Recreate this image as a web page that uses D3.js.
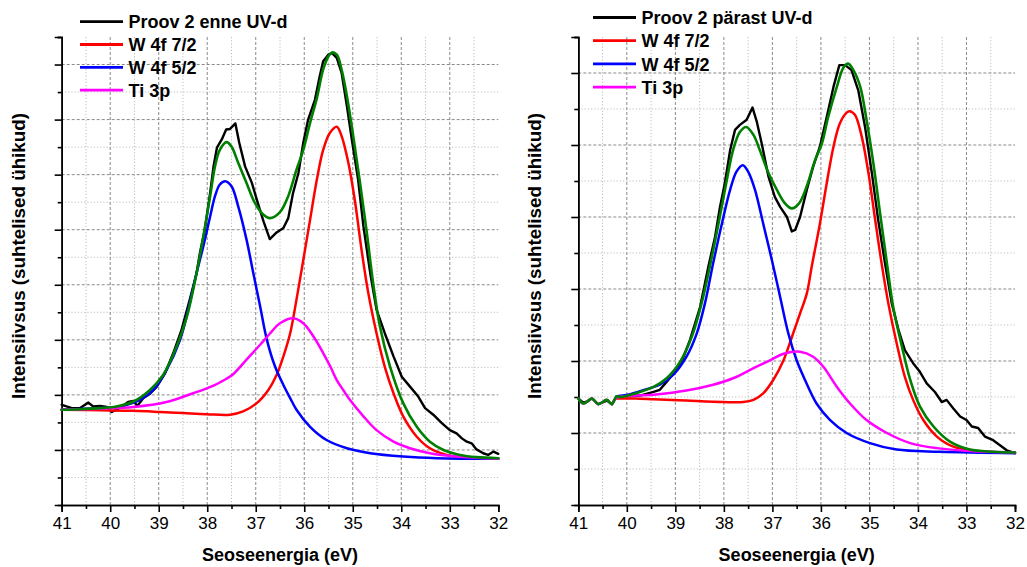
<!DOCTYPE html>
<html>
<head>
<meta charset="utf-8">
<script src="https://cdn.jsdelivr.net/npm/d3@7"></script>
<style>
  html, body { margin: 0; padding: 0; background: #ffffff; }
  svg { display: block; }
  text { font-family: Arial, "Liberation Sans", sans-serif; fill: #000; }
</style>
</head>
<body>
<svg id="chart" width="1027" height="567"></svg>
<script>
// Binding energy ticks (eV), shared by both panels
const energyTicks = [41, 40, 39, 38, 37, 36, 35, 34, 33, 32];

// Legend labels
const legendLeft = ["Proov 2 enne UV-d", "W 4f 7/2", "W 4f 5/2", "Ti 3p"];
const legendRight = ["Proov 2 pärast UV-d", "W 4f 7/2", "W 4f 5/2", "Ti 3p"];
const seriesColors = ["#000000", "#ff0000", "#0000ff", "#ff00ff"];
const fitColor = "#008000";

// ---- Sample 2 before UV: [energy eV, intensity a.u.] ----
const enneMeasured = [
  [41.00,1.82],[40.90,1.79],[40.79,1.76],[40.62,1.76],[40.45,1.86],[40.35,1.79],[40.21,1.80],
  [40.07,1.78],[39.97,1.69],[39.87,1.73],[39.76,1.79],[39.63,1.87],[39.52,1.89],[39.44,1.80],
  [39.32,1.94],[39.18,2.02],[39.04,2.15],[38.87,2.39],[38.70,2.76],[38.53,3.18],[38.36,3.73],
  [38.22,4.21],[38.15,4.58],[38.05,5.00],[37.94,5.67],[37.87,6.15],[37.80,6.49],[37.70,6.64],
  [37.61,6.82],[37.53,6.83],[37.42,6.93],[37.34,6.58],[37.22,6.15],[37.08,5.85],[36.98,5.55],
  [36.84,5.15],[36.71,4.83],[36.57,4.95],[36.43,5.03],[36.33,5.21],[36.23,5.67],[36.12,6.03],
  [36.02,6.58],[35.92,7.00],[35.78,7.36],[35.68,7.79],[35.61,8.06],[35.50,8.18],[35.43,8.21],
  [35.33,8.12],[35.23,7.85],[35.12,7.24],[35.02,6.64],[34.89,5.91],[34.78,5.06],[34.64,4.21],
  [34.51,3.55],[34.34,3.12],[34.16,2.70],[33.99,2.33],[33.82,2.15],[33.65,1.97],[33.51,1.76],
  [33.34,1.64],[33.17,1.49],[33.00,1.36],[32.86,1.30],[32.75,1.21],[32.65,1.15],[32.55,1.12],
  [32.45,1.01],[32.31,0.94],[32.21,0.91],[32.10,0.97],[32.00,0.93]
];
const enneW72 = [
  [41.00,1.73],[40.21,1.72],[39.52,1.71],[38.97,1.69],[38.49,1.67],[38.01,1.65],[37.53,1.64],
  [37.26,1.70],[36.98,1.85],[36.74,2.09],[36.57,2.36],[36.43,2.70],[36.29,3.12],[36.16,3.73],
  [36.02,4.45],[35.88,5.18],[35.74,5.91],[35.61,6.45],[35.47,6.76],[35.33,6.87],[35.23,6.70],
  [35.09,6.21],[34.95,5.49],[34.82,4.64],[34.68,3.85],[34.51,3.12],[34.34,2.51],[34.16,2.03],
  [33.96,1.61],[33.68,1.24],[33.41,1.03],[33.06,0.91],[32.58,0.85],[32.00,0.84]
];
const enneW52 = [
  [41.00,1.73],[40.21,1.76],[39.80,1.79],[39.39,1.91],[39.11,2.09],[38.84,2.45],[38.56,3.00],
  [38.36,3.67],[38.22,4.21],[38.08,4.70],[37.94,5.24],[37.84,5.61],[37.74,5.82],[37.63,5.88],
  [37.50,5.79],[37.36,5.42],[37.19,4.82],[37.05,4.21],[36.91,3.61],[36.77,3.00],[36.60,2.51],
  [36.43,2.18],[36.29,1.94],[36.16,1.73],[35.88,1.42],[35.54,1.18],[35.12,1.03],[34.64,0.94],
  [33.96,0.88],[33.27,0.85],[32.00,0.84]
];
const enneTi3p = [
  [41.00,1.73],[40.21,1.75],[39.52,1.78],[38.84,1.87],[38.29,2.03],[37.87,2.17],[37.63,2.28],
  [37.46,2.38],[37.33,2.50],[37.19,2.64],[36.91,2.91],[36.71,3.11],[36.50,3.30],[36.23,3.39],
  [36.02,3.30],[35.81,3.06],[35.61,2.76],[35.46,2.51],[35.33,2.27],[35.19,2.08],[35.06,1.91],
  [34.78,1.61],[34.51,1.36],[34.16,1.15],[33.82,1.03],[33.41,0.94],[32.86,0.88],[32.00,0.84]
];
const enneFit = [
  [41.00,1.73],[40.62,1.74],[40.21,1.76],[39.87,1.79],[39.52,1.88],[39.18,2.09],[38.91,2.36],
  [38.63,2.88],[38.42,3.42],[38.22,4.21],[38.08,4.88],[37.94,5.61],[37.84,6.15],[37.74,6.45],
  [37.60,6.59],[37.50,6.51],[37.36,6.21],[37.19,5.85],[37.02,5.49],[36.84,5.27],[36.71,5.21],
  [36.50,5.32],[36.33,5.61],[36.16,6.09],[36.02,6.45],[35.88,6.94],[35.74,7.39],[35.61,7.91],
  [35.50,8.15],[35.43,8.22],[35.33,8.18],[35.23,7.91],[35.12,7.42],[34.99,6.70],[34.85,5.85],
  [34.71,4.94],[34.58,4.03],[34.44,3.24],[34.23,2.51],[33.96,1.85],[33.68,1.42],[33.41,1.15],
  [33.13,1.00],[32.79,0.91],[32.45,0.87],[32.00,0.85]
];

// ---- Sample 2 after UV: [energy eV, intensity a.u.] ----
const parastMeasured = [
  [41.00,1.48],[40.90,1.42],[40.81,1.44],[40.72,1.48],[40.59,1.40],[40.41,1.45],[40.31,1.40],
  [40.21,1.51],[40.00,1.51],[39.73,1.52],[39.45,1.57],[39.32,1.60],[39.18,1.71],[39.01,1.85],
  [38.87,1.99],[38.70,2.29],[38.49,2.75],[38.32,3.31],[38.18,3.73],[38.08,4.14],[37.98,4.47],
  [37.87,4.93],[37.77,5.21],[37.67,5.28],[37.53,5.35],[37.41,5.52],[37.32,5.32],[37.22,5.02],
  [37.08,4.56],[36.95,4.28],[36.84,4.14],[36.70,4.00],[36.60,3.80],[36.53,3.82],[36.43,4.00],
  [36.29,4.38],[36.16,4.70],[36.02,4.98],[35.88,5.39],[35.74,5.81],[35.62,6.11],[35.50,6.11],
  [35.37,6.04],[35.23,5.76],[35.09,5.25],[34.95,4.61],[34.82,3.96],[34.68,3.36],[34.54,2.80],
  [34.40,2.43],[34.27,2.15],[34.10,1.97],[33.96,1.85],[33.82,1.69],[33.65,1.57],[33.51,1.43],
  [33.41,1.46],[33.27,1.34],[33.13,1.23],[33.00,1.18],[32.89,1.09],[32.76,1.07],[32.62,0.95],
  [32.45,0.90],[32.31,0.83],[32.17,0.76],[32.00,0.72]
];
const parastW72 = [
  [40.21,1.48],[39.83,1.48],[39.45,1.47],[38.77,1.45],[38.01,1.43],[37.60,1.43],[37.39,1.46],
  [37.19,1.55],[36.98,1.74],[36.77,2.01],[36.60,2.33],[36.43,2.66],[36.29,2.94],[36.19,3.31],
  [36.02,3.91],[35.88,4.47],[35.74,4.98],[35.61,5.30],[35.47,5.45],[35.41,5.47],[35.30,5.42],
  [35.16,5.12],[35.02,4.61],[34.89,4.00],[34.75,3.36],[34.61,2.80],[34.44,2.25],[34.27,1.78],
  [34.10,1.46],[33.89,1.18],[33.61,0.95],[33.27,0.81],[32.79,0.75],[32.00,0.73]
];
const parastW52 = [
  [40.21,1.51],[39.93,1.54],[39.59,1.61],[39.32,1.67],[39.04,1.81],[38.77,2.06],[38.56,2.38],
  [38.39,2.80],[38.22,3.36],[38.04,3.91],[37.87,4.38],[37.74,4.63],[37.61,4.72],[37.50,4.63],
  [37.36,4.38],[37.19,3.91],[37.01,3.40],[36.84,2.89],[36.67,2.38],[36.50,2.01],[36.33,1.74],
  [36.09,1.41],[35.81,1.18],[35.47,1.00],[34.99,0.86],[34.44,0.77],[33.55,0.74],[32.00,0.72]
];
const parastTi3p = [
  [41.00,1.48],[40.90,1.41],[40.81,1.44],[40.72,1.48],[40.59,1.40],[40.41,1.46],[40.31,1.40],
  [40.21,1.49],[39.45,1.53],[38.77,1.59],[38.22,1.67],[37.81,1.76],[37.39,1.90],[37.05,2.01],
  [36.77,2.10],[36.43,2.13],[36.16,2.06],[35.95,1.92],[35.67,1.64],[35.40,1.41],[35.06,1.18],
  [34.64,1.00],[34.16,0.86],[33.61,0.79],[32.93,0.75],[32.00,0.73]
];
const parastFit = [
  [41.00,1.48],[40.90,1.41],[40.81,1.44],[40.72,1.48],[40.59,1.40],[40.41,1.46],[40.31,1.40],
  [40.21,1.51],[40.14,1.50],[39.73,1.57],[39.45,1.64],[39.18,1.76],[38.90,1.99],[38.66,2.34],
  [38.46,2.80],[38.29,3.31],[38.11,3.91],[37.94,4.51],[37.81,4.93],[37.67,5.18],[37.54,5.25],
  [37.39,5.14],[37.26,4.93],[37.08,4.61],[36.91,4.38],[36.74,4.19],[36.60,4.12],[36.45,4.19],
  [36.29,4.43],[36.12,4.79],[35.98,5.02],[35.85,5.39],[35.67,5.81],[35.54,6.07],[35.44,6.13],
  [35.33,6.04],[35.19,5.81],[35.06,5.35],[34.92,4.75],[34.78,4.05],[34.64,3.36],[34.51,2.75],
  [34.33,2.20],[34.16,1.74],[33.96,1.37],[33.68,1.09],[33.34,0.88],[32.93,0.77],[32.45,0.74],
  [32.00,0.73]
];

const panels = [
  {
    left: 61.7, right: 498.3, top: 37, bottom: 505, yMax: 8.5,
    legendX: 80, legendY: 21.7, legendStep: 22.8, legend: legendLeft,
    titleX: 25,
    measured: enneMeasured, w72: enneW72, w52: enneW52, ti: enneTi3p, fit: enneFit
  },
  {
    left: 578.3, right: 1015, top: 37, bottom: 505, yMax: 6.5,
    legendX: 593, legendY: 17.5, legendStep: 23.2, legend: legendRight,
    titleX: 541,
    measured: parastMeasured, w72: parastW72, w52: parastW52, ti: parastTi3p, fit: parastFit
  }
];

const svg = d3.select("#chart");

panels.forEach(p => {
  const x = d3.scaleLinear().domain([energyTicks[0], energyTicks[energyTicks.length - 1]]).range([p.left, p.right]);
  const y = d3.scaleLinear().domain([0, p.yMax]).range([p.bottom, p.top]);
  const g = svg.append("g");

  const xMinor = d3.range(40.5, 32, -1);
  const yMajor = d3.range(1, Math.floor(p.yMax) + 1);
  const yMinor = d3.range(0.5, p.yMax + 0.01, 1);

  // grid: dotted minor, dashed major
  const grid = g.append("g");
  grid.selectAll("line.vmin").data(xMinor).join("line")
    .attr("x1", d => x(d)).attr("x2", d => x(d)).attr("y1", p.top).attr("y2", p.bottom)
    .attr("stroke", "#bdbdbd").attr("stroke-width", 1).attr("stroke-dasharray", "1.2,2");
  grid.selectAll("line.hmin").data(yMinor.filter(v => v < p.yMax - 0.01)).join("line")
    .attr("x1", p.left).attr("x2", p.right).attr("y1", d => y(d)).attr("y2", d => y(d))
    .attr("stroke", "#bdbdbd").attr("stroke-width", 1).attr("stroke-dasharray", "1.2,2");
  grid.selectAll("line.vmaj").data(energyTicks.slice(1, -1)).join("line")
    .attr("x1", d => x(d)).attr("x2", d => x(d)).attr("y1", p.top).attr("y2", p.bottom)
    .attr("stroke", "#8a8a8a").attr("stroke-width", 1).attr("stroke-dasharray", "3,2");
  grid.selectAll("line.hmaj").data(yMajor).join("line")
    .attr("x1", p.left).attr("x2", p.right).attr("y1", d => y(d)).attr("y2", d => y(d))
    .attr("stroke", "#8a8a8a").attr("stroke-width", 1).attr("stroke-dasharray", "3,2");

  // axes
  const xAxisMajor = d3.axisBottom(x).tickValues(energyTicks).tickSize(7).tickPadding(5).tickFormat(d3.format("d"));
  const xAxisMinor = d3.axisBottom(x).tickValues(xMinor).tickSize(4).tickFormat("");
  const yAxisMajor = d3.axisLeft(y).tickValues(yMajor).tickSize(7).tickFormat("");
  const yAxisMinor = d3.axisLeft(y).tickValues(yMinor).tickSize(4).tickFormat("");

  const styleAxis = sel => {
    sel.select(".domain").attr("stroke", "#000").attr("stroke-width", 1.6);
    sel.selectAll(".tick line").attr("stroke", "#000").attr("stroke-width", 1.6);
  };

  g.append("g").attr("transform", `translate(0,${p.bottom})`).call(xAxisMinor).call(styleAxis);
  g.append("g").attr("transform", `translate(0,${p.bottom})`).call(xAxisMajor).call(styleAxis)
    .selectAll(".tick text").attr("font-size", 17).attr("font-family", "Arial, 'Liberation Sans', sans-serif").attr("fill", "#000");
  g.append("g").attr("transform", `translate(${p.left},0)`).call(yAxisMinor).call(styleAxis);
  g.append("g").attr("transform", `translate(${p.left},0)`).call(yAxisMajor).call(styleAxis);

  // axis titles
  g.append("text")
    .attr("x", (p.left + p.right) / 2).attr("y", 561)
    .attr("text-anchor", "middle").attr("font-size", 18).attr("font-weight", "bold")
    .text("Seoseenergia (eV)");
  g.append("text")
    .attr("transform", `translate(${p.titleX},256) rotate(-90)`)
    .attr("text-anchor", "middle").attr("font-size", 18.8).attr("font-weight", "bold")
    .text("Intensiivsus (suhtelised ühikud)");

  // curves: fitted components are smooth, measured spectrum is drawn point to point
  const lineSmooth = d3.line().x(d => x(d[0])).y(d => y(d[1])).curve(d3.curveCatmullRom.alpha(0.5));
  const lineRaw = d3.line().x(d => x(d[0])).y(d => y(d[1]));
  const curves = g.append("g").attr("fill", "none").attr("stroke-linejoin", "round").attr("stroke-linecap", "round");
  curves.append("path").attr("d", lineRaw(p.measured)).attr("stroke", seriesColors[0]).attr("stroke-width", 2.4);
  curves.append("path").attr("d", lineSmooth(p.w72)).attr("stroke", seriesColors[1]).attr("stroke-width", 2.5);
  curves.append("path").attr("d", lineSmooth(p.w52)).attr("stroke", seriesColors[2]).attr("stroke-width", 2.5);
  curves.append("path").attr("d", lineSmooth(p.ti)).attr("stroke", seriesColors[3]).attr("stroke-width", 2.5);
  curves.append("path").attr("d", lineSmooth(p.fit)).attr("stroke", fitColor).attr("stroke-width", 2.6);

  // legend
  const lg = g.append("g");
  p.legend.forEach((label, i) => {
    const ly = p.legendY + i * p.legendStep;
    lg.append("line").attr("x1", p.legendX).attr("x2", p.legendX + 43)
      .attr("y1", ly).attr("y2", ly).attr("stroke", seriesColors[i]).attr("stroke-width", 2.8);
    lg.append("text").attr("x", p.legendX + 48.5).attr("y", ly + 6.6)
      .attr("font-size", 18).attr("font-weight", "bold").text(label);
  });
});
</script>
</body>
</html>
